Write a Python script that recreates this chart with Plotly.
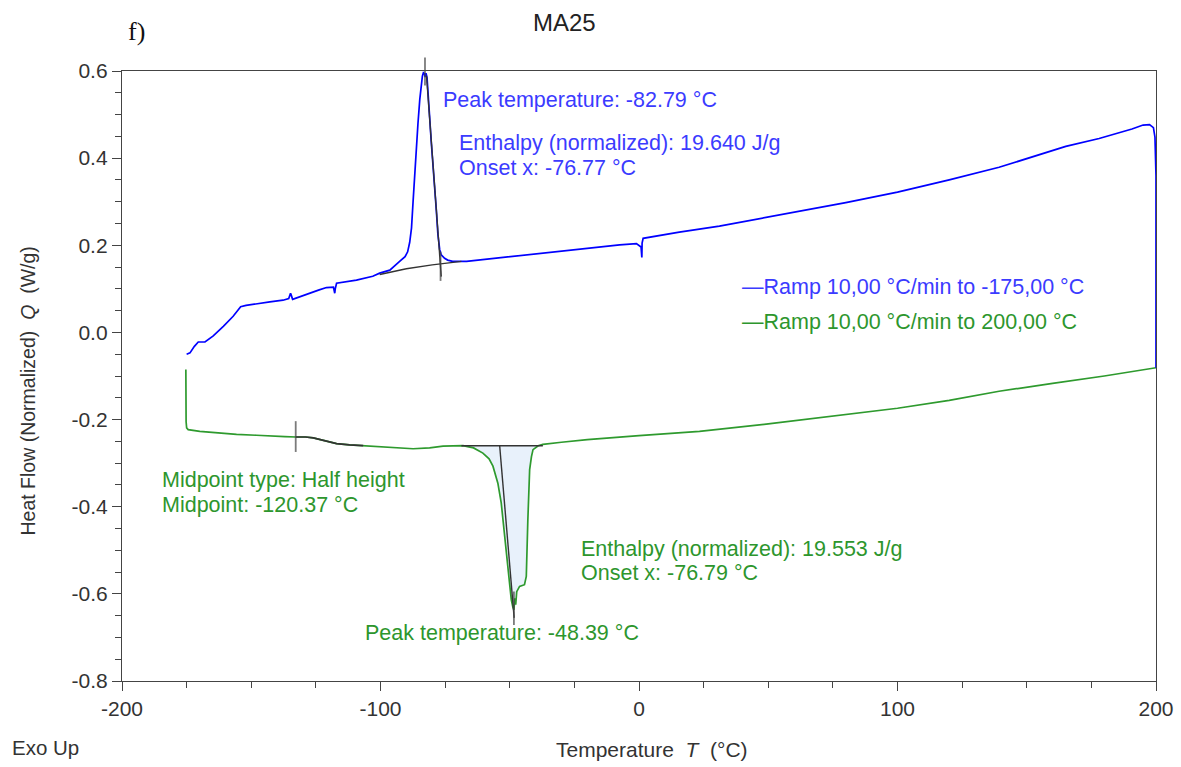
import plotly.graph_objects as go
import numpy as np

# ---------------- data ----------------
# Cooling ramp (to -175 °C), in time order (T descending)
blue_T = [200, 200, 199.6, 199.0, 197.5, 195, 190.7, 178, 165.1, 152.1, 139.3, 120, 100, 80, 60, 45,
          31.1, 15.6, 1.6, 1.2, 1.1, 0.8, -1.0, -7.5, -20, -30.7, -45, -53.9, -60, -66.7, -72.1, -74.0,
          -75.2, -76.5, -77.1, -77.8, -78.4, -79.1, -79.7, -80.4, -81.0, -81.5, -82.0, -82.4, -82.7,
          -83.0, -83.4, -83.8, -84.3, -84.8, -85.5, -86.2, -86.8, -87.4, -88.0, -88.7, -89.5, -90.5,
          -92.6, -94.5, -96.4, -100.3, -103, -109.3, -113, -117.0, -117.5, -117.7, -118.2, -120.9,
          -124, -127.3, -130, -134.0, -134.5, -134.8, -135.5, -137.7, -142.8, -147, -150.5, -152,
          -154.1, -157.0, -160.8, -164.7, -167.9, -170.5, -172, -173.7, -175]
blue_Q = [-0.081, 0.359, 0.448, 0.470, 0.477, 0.476, 0.467, 0.445, 0.427, 0.402, 0.379, 0.350, 0.322,
          0.298, 0.276, 0.260, 0.244, 0.230, 0.216, 0.205, 0.172, 0.196, 0.204, 0.201, 0.193, 0.186,
          0.177, 0.170, 0.167, 0.163, 0.163, 0.166, 0.170, 0.178, 0.190, 0.225, 0.280, 0.330, 0.385,
          0.440, 0.495, 0.550, 0.585, 0.595, 0.586, 0.594, 0.596, 0.588, 0.565, 0.535, 0.480, 0.420,
          0.370, 0.300, 0.240, 0.207, 0.185, 0.174, 0.163, 0.152, 0.143, 0.136, 0.129, 0.120, 0.116,
          0.113, 0.100, 0.090, 0.104, 0.103, 0.097, 0.090, 0.084, 0.076, 0.085, 0.090, 0.078, 0.074,
          0.070, 0.067, 0.064, 0.062, 0.059, 0.037, 0.014, -0.008, -0.022, -0.022, -0.032, -0.047, -0.050]

# Heating ramp (to 200 °C), T ascending
green_T = [-175.3, -175.3, -175.2, -175.0, -174.4, -169.9, -162, -155.7, -148, -142.8, -137, -132.8,
           -129, -126, -123.5, -120.4, -117.0, -112, -106.7, -99.0, -93, -87.4, -81, -75.8, -68.1, -64,
           -60.4, -58, -56.5, -54.6, -53.3, -52.0, -50.7, -49.4, -48.8, -48.4, -48.0, -47.7, -47.3,
           -46.2, -44.3, -43.6, -43.0, -42.3, -41.6, -41.0, -39, -37.2, -30, -20, 0, 23.4, 50, 80, 100,
           120, 139.3, 160, 180, 200]
green_Q = [-0.085, -0.190, -0.205, -0.219, -0.223, -0.227, -0.231, -0.234, -0.236, -0.238, -0.239,
           -0.240, -0.240, -0.242, -0.246, -0.250, -0.255, -0.258, -0.260, -0.263, -0.265, -0.267,
           -0.265, -0.261, -0.260, -0.265, -0.277, -0.290, -0.307, -0.346, -0.391, -0.468, -0.545,
           -0.614, -0.630, -0.637, -0.610, -0.625, -0.595, -0.583, -0.579, -0.560, -0.430, -0.315,
           -0.285, -0.269, -0.260, -0.257, -0.252, -0.246, -0.237, -0.227, -0.210, -0.189, -0.174,
           -0.156, -0.135, -0.117, -0.100, -0.081]

# Evaluation constructions
blue_baseline_T = [-100.3, -90, -80, -68.7]
blue_baseline_Q = [0.133, 0.146, 0.155, 0.163]
blue_tangent_T = [-82.2, -76.5]
blue_tangent_Q = [0.589, 0.128]
green_tg_range = [-132.8, -106.7]
green_peak_baseline_T = [-68.7, -37.2]
green_peak_baseline_Q = [-0.260, -0.260]
green_tangent_T = [-53.9, -48.3]
green_tangent_Q = [-0.260, -0.655]
eval_tick_T = [-82.79, -76.77, -132.8, -48.39]
eval_tick_Q = [0.599, 0.152, -0.239, -0.633]

x_ticks = [-200, -100, 0, 100, 200]
y_ticks = [-0.8, -0.6, -0.4, -0.2, 0.0, 0.2, 0.4, 0.6]
y_ticklabels = ["-0.8", "-0.6", "-0.4", "-0.2", "0.0", "0.2", "0.4", "0.6"]

# ---------------- styles ----------------
BLUE = "#0000ff"
BLUE_TXT = "#3b3bff"
GREEN = "#2e9a2e"
GREEN_TXT = "#2d962d"
BLACK = "#333333"
AX = "#444444"
FONT = "Liberation Sans, Arial, sans-serif"
FS = 21.5
TFS = 21

fig = go.Figure()

gT = np.array(green_T)
gQ = np.array(green_Q)

# filled endotherm area
m = (gT >= green_peak_baseline_T[0]) & (gT <= green_peak_baseline_T[1])
fill_T = list(gT[m]) + [green_peak_baseline_T[1], green_peak_baseline_T[0]]
fill_Q = list(gQ[m]) + [green_peak_baseline_Q[1], green_peak_baseline_Q[0]]
fig.add_trace(go.Scatter(x=fill_T, y=fill_Q, fill="toself", fillcolor="#e8f1fb",
                         line=dict(width=0), mode="lines", hoverinfo="skip", showlegend=False))

fig.add_trace(go.Scatter(x=green_T, y=green_Q, mode="lines", line=dict(color=GREEN, width=1.7),
                         showlegend=False))
fig.add_trace(go.Scatter(x=blue_T, y=blue_Q, mode="lines", line=dict(color=BLUE, width=1.7),
                         showlegend=False))

# black evaluation lines
mt = (gT >= green_tg_range[0]) & (gT <= green_tg_range[1])
fig.add_trace(go.Scatter(x=gT[mt], y=gQ[mt], mode="lines", line=dict(color=BLACK, width=1.7),
                         showlegend=False))
for xs, ys in [(blue_baseline_T, blue_baseline_Q), (blue_tangent_T, blue_tangent_Q),
               (green_peak_baseline_T, green_peak_baseline_Q), (green_tangent_T, green_tangent_Q)]:
    fig.add_trace(go.Scatter(x=xs, y=ys, mode="lines", line=dict(color=BLACK, width=1.4),
                             showlegend=False))

fig.add_trace(go.Scatter(x=eval_tick_T, y=eval_tick_Q, mode="markers", cliponaxis=False,
                         marker=dict(symbol="line-ns", size=[20, 21, 22, 24],
                                     line=dict(color="#444444", width=1.8)),
                         showlegend=False))

# ---------------- annotations ----------------
def ann(text, x, y, color, xanchor="left", size=FS, family=FONT, angle=0):
    fig.add_annotation(text=text, x=x, y=y, xref="paper", yref="paper", showarrow=False,
                       xanchor=xanchor, yanchor="middle", textangle=angle,
                       font=dict(color=color, size=size, family=family))

ann("Peak temperature: -82.79 °C", 0.3085, 0.9525, BLUE_TXT)
ann("Enthalpy (normalized): 19.640 J/g", 0.324, 0.882, BLUE_TXT)
ann("Onset x: -76.77 °C", 0.324, 0.841, BLUE_TXT)
ann("—Ramp 10,00 °C/min to -175,00 °C", 0.5977, 0.646, BLUE_TXT)
ann("—Ramp 10,00 °C/min to 200,00 °C", 0.5977, 0.5885, GREEN_TXT)
ann("Midpoint type: Half height", 0.0368, 0.3295, GREEN_TXT)
ann("Midpoint: -120.37 °C", 0.0368, 0.2885, GREEN_TXT)
ann("Enthalpy (normalized): 19.553 J/g", 0.442, 0.2164, GREEN_TXT)
ann("Onset x: -76.79 °C", 0.442, 0.177, GREEN_TXT)
ann("Peak temperature: -48.39 °C", 0.233, 0.0787, GREEN_TXT)

ann("MA25", 0.4275, 1.080, "#222222", xanchor="center", size=24)
ann("f)", 0.0035, 1.064, "#111111", size=26, family="Liberation Serif, Times New Roman, serif")
ann("Exo Up", -0.1083, -0.1098, "#333333", size=20.5)
ann("Temperature\u00a0\u00a0<i>T</i>\u00a0\u00a0(°C)", 0.5126, -0.113, "#333333", xanchor="center", size=21)
ann("Heat Flow (Normalized)\u00a0\u00a0<i>Q</i>\u00a0\u00a0(W/g)", -0.0909, 0.4746, "#333333",
    xanchor="center", size=19.5, angle=-90)

fig.update_layout(
    width=1181, height=767,
    margin=dict(l=122, r=25, t=71, b=86, autoexpand=False),
    paper_bgcolor="white", plot_bgcolor="white",
    font=dict(family=FONT, size=FS, color="#333333"),
    showlegend=False,
)
fig.update_xaxes(range=[-200, 200], tickvals=x_ticks, ticktext=[str(v) for v in x_ticks],
                 automargin=False,
                 showgrid=False, zeroline=False, showline=True, linecolor=AX, linewidth=1.3,
                 mirror=True, ticks="outside", ticklen=9, tickcolor=AX, tickwidth=1.3,
                 tickfont=dict(size=TFS, color="#333333"),
                 minor=dict(dtick=25, tick0=-200, ticks="outside", ticklen=6, tickcolor=AX, tickwidth=1.2))
fig.update_yaxes(range=[-0.8, 0.6], tickvals=y_ticks, ticktext=y_ticklabels,
                 automargin=False,
                 showgrid=False, zeroline=False, showline=True, linecolor=AX, linewidth=1.3,
                 mirror=True, ticks="outside", ticklen=9, tickcolor=AX, tickwidth=1.3,
                 tickfont=dict(size=TFS, color="#333333"),
                 minor=dict(dtick=0.05, tick0=-0.8, ticks="outside", ticklen=6, tickcolor=AX, tickwidth=1.2))

fig.write_html("out.html")
